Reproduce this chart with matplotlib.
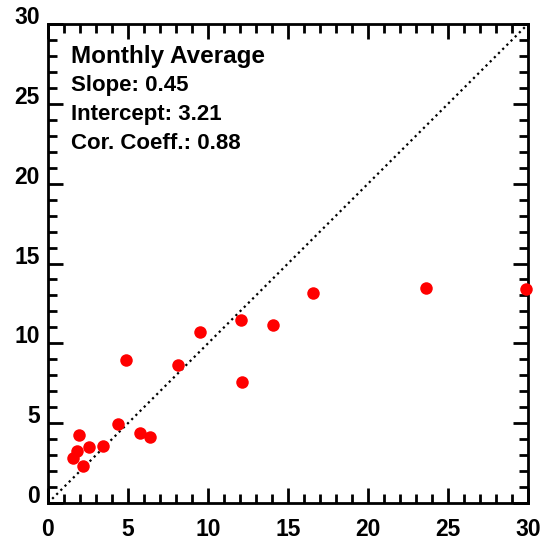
import numpy as np
import matplotlib
matplotlib.use("Agg")
import matplotlib.pyplot as plt

plt.rcParams["font.family"] = ["Liberation Sans", "DejaVu Sans"]
plt.rcParams["font.weight"] = "bold"

# Monthly average values
x_vals = [1.59, 1.80, 1.96, 2.17, 2.55, 3.42, 4.36, 4.88, 5.76, 6.35,
          8.14, 9.50, 12.04, 12.13, 14.07, 16.59, 23.61, 29.87]
y_vals = [2.80, 3.27, 4.26, 2.30, 3.49, 3.59, 4.93, 8.95, 4.40, 4.13,
          8.62, 10.71, 11.44, 7.58, 11.17, 13.17, 13.46, 13.40]

title_text = "Monthly Average"
stat_lines = ["Slope: 0.45", "Intercept: 3.21", "Cor. Coeff.: 0.88"]
ticks = [0, 5, 10, 15, 20, 25, 30]

fig = plt.figure(figsize=(5.51, 5.41), dpi=100)
ax = fig.add_axes([48 / 551, 1 - 503 / 541, 480 / 551, 479 / 541])

# 1:1 reference line
ax.plot([0, 30], [0, 30], color="black", linestyle=":", linewidth=1.6)
ax.plot(x_vals, y_vals, "o", color="red", markersize=9,
        markeredgewidth=0, clip_on=False, zorder=3)

ax.set_xlim(0, 30)
ax.set_ylim(0, 30)
ax.set_xticks(ticks)
ax.set_yticks(ticks)
ax.set_xticks(np.arange(0, 31, 1), minor=True)
ax.set_yticks(np.arange(0, 31, 1), minor=True)
ax.set_xticklabels([str(t) for t in ticks], fontsize=16.5, fontweight="bold")
ax.set_yticklabels([str(t) for t in ticks], fontsize=16.5, fontweight="bold",
                   va="baseline")

ax.tick_params(which="both", direction="in", top=True, right=True,
               width=2, color="black")
ax.tick_params(which="major", length=11)
ax.tick_params(which="minor", length=6.5)
ax.tick_params(axis="x", which="major", pad=11)
ax.tick_params(axis="y", which="major", pad=6)
for sp in ax.spines.values():
    sp.set_linewidth(2)

ax.text(1.44, 27.57, title_text, fontsize=17.5, fontweight="bold",
        va="baseline", ha="left")
for i, line in enumerate(stat_lines):
    ax.text(1.44, 25.82 - i * 1.81, line, fontsize=16, fontweight="bold",
            va="baseline", ha="left")

fig.savefig("out.png", dpi=100)
